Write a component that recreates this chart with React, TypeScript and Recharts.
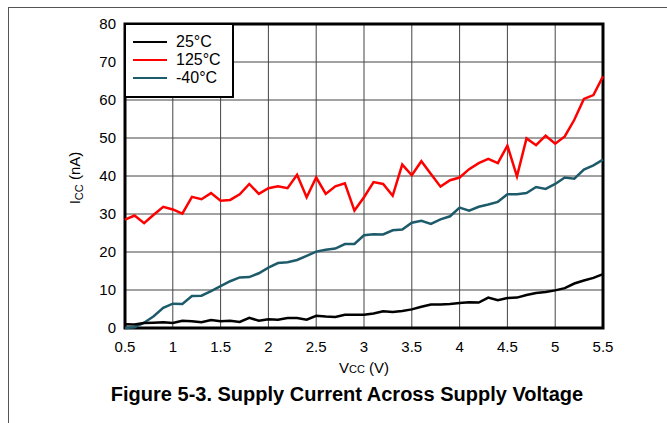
import React from 'react';
import { LineChart, Line, XAxis, YAxis, CartesianGrid, ReferenceArea } from 'recharts';

const volts = [
  0.5, 0.6, 0.7, 0.8, 0.9, 1.0, 1.1, 1.2, 1.3, 1.4,
  1.5, 1.6, 1.7, 1.8, 1.9, 2.0, 2.1, 2.2, 2.3, 2.4,
  2.5, 2.6, 2.7, 2.8, 2.9, 3.0, 3.1, 3.2, 3.3, 3.4,
  3.5, 3.6, 3.7, 3.8, 3.9, 4.0, 4.1, 4.2, 4.3, 4.4,
  4.5, 4.6, 4.7, 4.8, 4.9, 5.0, 5.1, 5.2, 5.3, 5.4, 5.5,
];

// ICC (nA) at 25°C
const icc25 = [
  1.0, 0.9, 1.3, 1.4, 1.5, 1.3, 1.9, 1.8, 1.5, 2.1,
  1.8, 1.9, 1.6, 2.7, 1.9, 2.3, 2.2, 2.6, 2.6, 2.2,
  3.2, 3.0, 2.9, 3.5, 3.5, 3.5, 3.8, 4.4, 4.2, 4.5,
  4.9, 5.6, 6.2, 6.2, 6.3, 6.6, 6.8, 6.7, 8.0, 7.3,
  7.9, 8.0, 8.7, 9.2, 9.5, 9.9, 10.5, 11.7, 12.5, 13.2, 14.2,
];

// ICC (nA) at 125°C
const icc125 = [
  28.5, 29.6, 27.6, 29.8, 31.9, 31.2, 30.1, 34.5, 33.9, 35.5,
  33.5, 33.7, 35.2, 37.9, 35.3, 36.8, 37.3, 36.8, 40.3, 34.4,
  39.6, 35.3, 37.3, 38.1, 30.9, 34.4, 38.4, 37.9, 34.8, 43.0,
  40.2, 43.9, 40.5, 37.2, 38.9, 39.6, 41.8, 43.4, 44.5, 43.4,
  48.0, 39.9, 49.9, 48.1, 50.6, 48.5, 50.4, 54.8, 60.3, 61.3, 66.2,
];

// ICC (nA) at -40°C
const iccM40 = [
  0.0, 0.2, 1.4, 3.1, 5.3, 6.4, 6.3, 8.4, 8.5, 9.7,
  11.0, 12.3, 13.3, 13.4, 14.4, 15.9, 17.1, 17.3, 17.9, 19.0,
  20.1, 20.6, 20.9, 22.1, 22.1, 24.4, 24.7, 24.6, 25.7, 25.9,
  27.7, 28.2, 27.4, 28.6, 29.4, 31.7, 30.9, 31.9, 32.5, 33.2,
  35.2, 35.2, 35.5, 37.1, 36.6, 37.9, 39.6, 39.3, 41.7, 42.8, 44.3,
];

const xTicks = [0.5, 1, 1.5, 2, 2.5, 3, 3.5, 4, 4.5, 5, 5.5];
const yTicks = [0, 10, 20, 30, 40, 50, 60, 70, 80];

const legendItems = [
  { name: '25°C', color: '#000000' },
  { name: '125°C', color: '#ff0000' },
  { name: '-40°C', color: '#1d5b6b' },
];

const data = volts.map((v, i) => ({
  v,
  t25: icc25[i],
  t125: icc125[i],
  tm40: iccM40[i],
}));

const FONT = '"Liberation Sans", Arial, sans-serif';

function YLabel(props: any) {
  const { y, height } = props.viewBox;
  const cx = 80;
  const cy = y + height / 2 + 2;
  return (
    <text
      x={cx}
      y={cy}
      transform={`rotate(-90 ${cx} ${cy})`}
      textAnchor="middle"
      fontSize={15}
      fill="#000"
      fontFamily={FONT}
    >
      <tspan>I</tspan>
      <tspan fontSize={11} dy={3}>CC</tspan>
      <tspan dy={-3}> (nA)</tspan>
    </text>
  );
}

function XLabel(props: any) {
  const { x, width } = props.viewBox;
  const cx = x + width / 2;
  return (
    <g fontFamily={FONT} fill="#000">
      <text x={cx} y={373} textAnchor="middle" fontSize={15}>
        <tspan>V</tspan>
        <tspan fontSize={11}>CC</tspan>
        <tspan> (V)</tspan>
      </text>
      <text x={347} y={401} textAnchor="middle" fontSize={20} fontWeight="bold">
        Figure 5-3. Supply Current Across Supply Voltage
      </text>
    </g>
  );
}

export default function App() {
  return (
    <div
      style={{
        position: 'absolute',
        left: 0,
        top: 0,
        width: 667,
        height: 423,
        background: '#fff',
        fontFamily: FONT,
        overflow: 'hidden',
      }}
    >
      <div style={{ position: 'absolute', left: 8, top: 7, width: 659, height: 1, background: '#555' }} />
      <div style={{ position: 'absolute', left: 8, top: 7, width: 1, height: 416, background: '#555' }} />
      <LineChart
        width={667}
        height={423}
        data={data}
        margin={{ top: 24, right: 64, bottom: 65, left: 65 }}
      >
        <CartesianGrid stroke="#444" strokeWidth={1} />
        <XAxis
          dataKey="v"
          type="number"
          domain={[0.5, 5.5]}
          ticks={xTicks}
          interval={0}
          height={30}
          axisLine={false}
          tickLine={false}
          tickSize={0}
          tickMargin={13}
          tick={{ fill: '#000', fontSize: 15, fontFamily: FONT }}
          label={<XLabel />}
        />
        <YAxis
          type="number"
          domain={[0, 80]}
          ticks={yTicks}
          interval={0}
          width={60}
          axisLine={false}
          tickLine={false}
          tickSize={0}
          tickMargin={9}
          tick={{ fill: '#000', fontSize: 15, fontFamily: FONT }}
          label={<YLabel />}
        />
        <Line dataKey="tm40" stroke="#1d5b6b" strokeWidth={2.5} dot={false} isAnimationActive={false} />
        <Line dataKey="t125" stroke="#ff0000" strokeWidth={2.5} dot={false} isAnimationActive={false} />
        <Line dataKey="t25" stroke="#000000" strokeWidth={2.5} dot={false} isAnimationActive={false} />
        <ReferenceArea
          x1={0.5}
          x2={5.5}
          y1={0}
          y2={80}
          fill="none"
          stroke="#000"
          strokeWidth={3}
          ifOverflow="visible"
        />
      </LineChart>
      <div
        style={{
          position: 'absolute',
          left: 124,
          top: 23,
          width: 110,
          height: 75,
          boxSizing: 'border-box',
          border: '2.5px solid #000',
          background: '#fff',
          padding: '8px 0 0 7px',
        }}
      >
        {legendItems.map((item) => (
          <div key={item.name} style={{ display: 'flex', alignItems: 'center', height: 18 }}>
            <div style={{ width: 34, height: 2.5, background: item.color, marginRight: 9 }} />
            <span style={{ fontSize: 16, color: '#000', lineHeight: '18px' }}>{item.name}</span>
          </div>
        ))}
      </div>
    </div>
  );
}
